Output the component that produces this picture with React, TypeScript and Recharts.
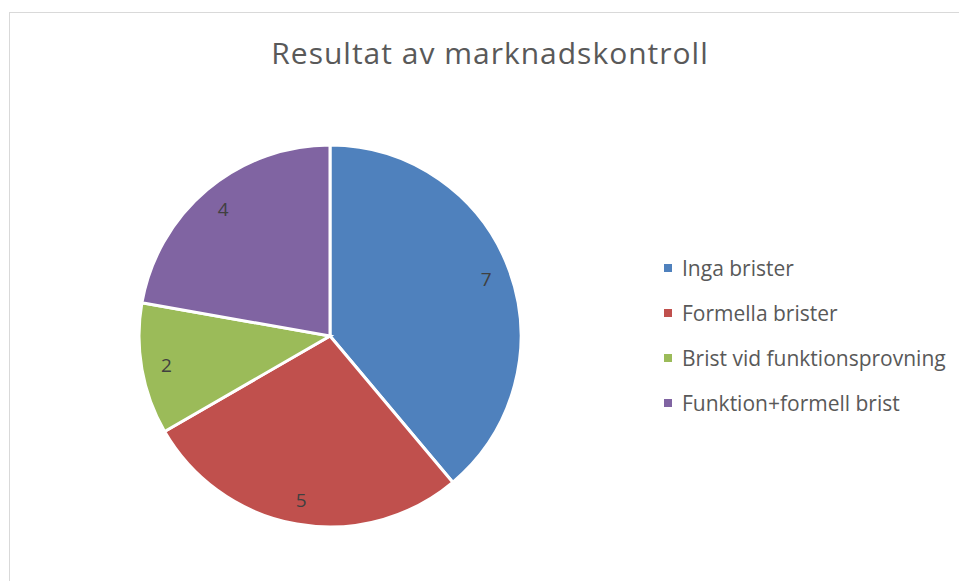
import React from "react";
import { PieChart, Pie, Cell, Legend } from "recharts";

const categories = ["Inga brister", "Formella brister", "Brist vid funktionsprovning", "Funktion+formell brist"];
const values = [7, 5, 2, 4];
const colors = ["#4F81BD", "#C0504D", "#9BBB59", "#8064A2"];
const title = "Resultat av marknadskontroll";

const data = categories.map((name, i) => ({ name, value: values[i] }));

const FONT = "'Open Sans', sans-serif";
const RAD = Math.PI / 180;

const renderLabel = (p: any) => {
  const r = p.outerRadius * 0.87;
  const x = p.cx + r * Math.cos(-p.midAngle * RAD);
  const y = p.cy + r * Math.sin(-p.midAngle * RAD);
  return (
    <text x={x} y={y + 7} fill="#404040" fontSize={19} fontFamily={FONT} textAnchor="middle">
      {p.value}
    </text>
  );
};

const renderLegend = () => (
  <div style={{ fontFamily: FONT }}>
    {categories.map((name, i) => (
      <div key={name} style={{ height: 45, display: "flex", alignItems: "center" }}>
        <span style={{ display: "inline-block", width: 8, height: 8, background: colors[i], marginRight: 10 }} />
        <span style={{ fontSize: 21, color: "#595959", whiteSpace: "nowrap" }}>{name}</span>
      </div>
    ))}
  </div>
);

export default function App() {
  return (
    <div style={{ position: "absolute", left: 0, top: 0, width: 959, height: 581, overflow: "hidden", background: "#fff" }}>
      <div style={{ position: "absolute", left: 9, top: 12, width: 1000, height: 1000, border: "1.5px solid #d9d9d9", boxSizing: "border-box" }} />
      <div style={{ position: "absolute", left: 0, top: 0 }}>
        <PieChart width={959} height={581} margin={{ top: 0, right: 0, bottom: 0, left: 0 }}>
          <text x={490} y={64} textAnchor="middle" fill="#595959" fontSize={30} letterSpacing={1} fontFamily={FONT}>
            {title}
          </text>
          <Pie
            data={data}
            dataKey="value"
            nameKey="name"
            cx={330}
            cy={336}
            outerRadius={191}
            startAngle={90}
            endAngle={-270}
            stroke="#ffffff"
            strokeWidth={3}
            label={renderLabel}
            labelLine={false}
            isAnimationActive={false}
          >
            {data.map((d, i) => (
              <Cell key={d.name} fill={colors[i]} />
            ))}
          </Pie>
          <Legend
            layout="vertical"
            content={renderLegend}
            wrapperStyle={{ position: "absolute", left: 664, top: 245, width: 295, height: 180 }}
          />
        </PieChart>
      </div>
    </div>
  );
}
